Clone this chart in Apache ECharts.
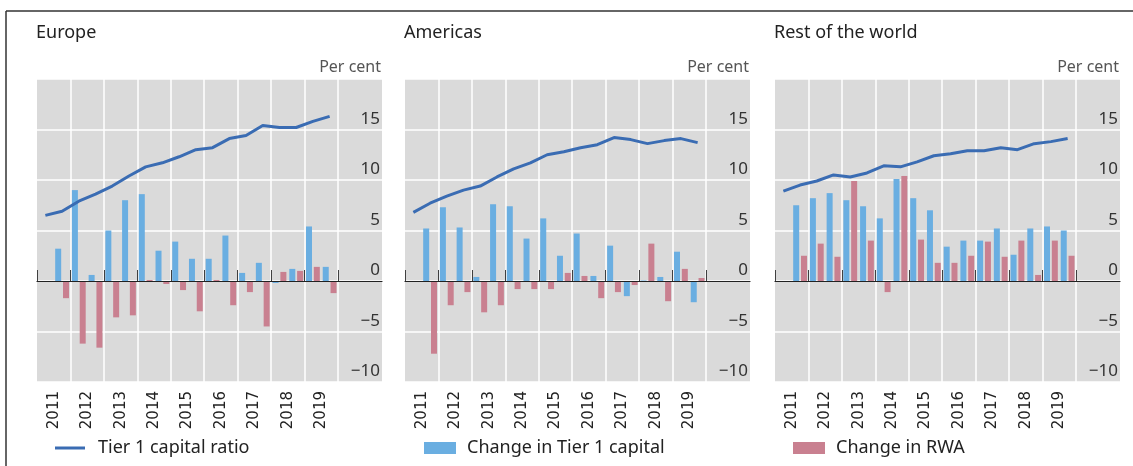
<!DOCTYPE html>
<html>
<head>
<meta charset="utf-8">
<script src="https://cdn.jsdelivr.net/npm/echarts@6/dist/echarts.min.js"></script>
<style>
    html, body { margin: 0; padding: 0; background: #fff; }
    #chart { width: 1133px; height: 466px; }
</style>
</head>
<body>
<div id="chart"></div>
<script>
var years = ['2011', '2012', '2013', '2014', '2015', '2016', '2017', '2018', '2019'];
var halfYears = ['11H1', '11H2', '12H1', '12H2', '13H1', '13H2', '14H1', '14H2', '15H1',
    '15H2', '16H1', '16H2', '17H1', '17H2', '18H1', '18H2', '19H1', '19H2'];
var regions = ['Europe', 'Americas', 'Rest of the world'];
var yTicks = [-10, -5, 0, 5, 10, 15, 20];

var europeRatio = [6.5, 6.9, 7.9, 8.6, 9.4, 10.4, 11.3, 11.7, 12.3, 13.0, 13.2, 14.1, 14.4, 15.4, 15.2, 15.2, 15.8, 16.3];
var europeCapital = [null, 3.2, 9.0, 0.6, 5.0, 8.0, 8.6, 3.0, 3.9, 2.2, 2.2, 4.5, 0.8, 1.8, -0.2, 1.2, 5.4, 1.4];
var europeRwa = [null, -1.7, -6.2, -6.6, -3.6, -3.4, 0.1, -0.3, -0.9, -3.0, 0.1, -2.4, -1.1, -4.5, 0.9, 1.0, 1.4, -1.2];

var americasRatio = [6.8, 7.7, 8.4, 9.0, 9.4, 10.3, 11.1, 11.7, 12.5, 12.8, 13.2, 13.5, 14.2, 14.0, 13.6, 13.9, 14.1, 13.7];
var americasCapital = [null, 5.2, 7.3, 5.3, 0.4, 7.6, 7.4, 4.2, 6.2, 2.5, 4.7, 0.5, 3.5, -1.5, 0.05, 0.4, 2.9, -2.1];
var americasRwa = [null, -7.2, -2.4, -1.1, -3.1, -2.4, -0.8, -0.8, -0.8, 0.8, 0.5, -1.7, -1.1, -0.4, 3.7, -2.0, 1.2, 0.3];

var rowRatio = [8.9, 9.5, 9.9, 10.5, 10.3, 10.7, 11.4, 11.3, 11.8, 12.4, 12.6, 12.9, 12.9, 13.2, 13.0, 13.6, 13.8, 14.1];
var rowCapital = [null, 7.5, 8.2, 8.7, 8.0, 7.4, 6.2, 10.1, 8.2, 7.0, 3.4, 4.0, 4.0, 5.2, 2.6, 5.2, 5.4, 5.0];
var rowRwa = [null, 2.5, 3.7, 2.4, 9.9, 4.0, -1.1, 10.4, 4.1, 1.8, 1.8, 2.5, 3.9, 2.4, 4.0, 0.6, 4.0, 2.5];

(function () {
    var myChart = echarts.init(document.getElementById('chart'));

    var font = '"Noto Sans", sans-serif';
    var lineColor = '#3a6cb3';
    var capColor = '#6aaee1';
    var rwaColor = '#c98090';

    var panels = [
        { left: 37, ratio: europeRatio, capital: europeCapital, rwa: europeRwa },
        { left: 405, ratio: americasRatio, capital: americasCapital, rwa: americasRwa },
        { left: 775, ratio: rowRatio, capital: rowCapital, rwa: rowRwa }
    ];
    var top = 79, height = 303, bgWidth = 345, plotWidth = 301;

    var grid = [], xAxis = [], yAxis = [], series = [], graphic = [];

    panels.forEach(function (p, i) {
        // grey background grid, carries the y labels and the zero line
        grid.push({ left: p.left, top: top, width: bgWidth, height: height,
            show: true, backgroundColor: '#dadada', borderWidth: 0 });
        // plot grid for the 18 half-years
        grid.push({ left: p.left, top: top, width: plotWidth, height: height });

        xAxis.push({
            gridIndex: 2 * i, type: 'value', min: 0, max: 1, z: 5,
            axisLine: { show: true, onZero: true, lineStyle: { color: '#222', width: 1.2 } },
            axisTick: { show: false }, axisLabel: { show: false }, splitLine: { show: false }
        });
        xAxis.push({
            gridIndex: 2 * i + 1, type: 'category', data: years, boundaryGap: true,
            axisLine: { show: false },
            axisTick: { show: true, inside: true, length: 11, lineStyle: { color: '#404040' } },
            axisLabel: { rotate: 90, margin: 9, fontSize: 15, fontFamily: 'DejaVu Sans', color: '#222' },
            splitLine: { show: true, showMinLine: false, lineStyle: { color: '#fff', width: 1.5 } }
        });
        xAxis.push({
            gridIndex: 2 * i + 1, type: 'category', data: halfYears, boundaryGap: true, show: false
        });

        yAxis.push({
            gridIndex: 2 * i, type: 'value', position: 'right',
            min: yTicks[0], max: yTicks[yTicks.length - 1], interval: 5,
            axisLine: { show: false }, axisTick: { show: false },
            axisLabel: {
                inside: true, margin: 2, fontSize: 17, fontFamily: font, color: '#333',
                verticalAlign: 'bottom', padding: [0, 0, 2, 0],
                formatter: function (v) {
                    if (v === 20) return '';
                    return v < 0 ? '\u2212' + Math.abs(v) : String(v);
                }
            },
            splitLine: { lineStyle: { color: '#fff', width: 1.5 } }
        });
        yAxis.push({
            gridIndex: 2 * i + 1, type: 'value', show: false,
            min: yTicks[0], max: yTicks[yTicks.length - 1], interval: 5,
            splitLine: { show: false }
        });

        series.push({
            name: 'Change in Tier 1 capital', type: 'bar',
            xAxisIndex: 3 * i + 2, yAxisIndex: 2 * i + 1,
            barWidth: 6, barGap: '30%',
            itemStyle: { color: capColor },
            data: p.capital
        });
        series.push({
            name: 'Change in RWA', type: 'bar',
            xAxisIndex: 3 * i + 2, yAxisIndex: 2 * i + 1,
            barWidth: 6, barGap: '30%',
            itemStyle: { color: rwaColor },
            data: p.rwa
        });
        series.push({
            name: 'Tier 1 capital ratio', type: 'line',
            xAxisIndex: 3 * i + 2, yAxisIndex: 2 * i + 1,
            symbol: 'none', z: 3,
            itemStyle: { color: lineColor },
            lineStyle: { color: lineColor, width: 3 },
            data: p.ratio
        });

        graphic.push({
            type: 'text', x: p.left - 1, y: 33,
            style: { text: regions[i], fill: '#222', font: '18px ' + font, textVerticalAlign: 'middle' }
        });
        graphic.push({
            type: 'text', x: p.left + bgWidth - 1, y: 67,
            style: { text: 'Per cent', fill: '#555', font: '16px ' + font,
                textAlign: 'right', textVerticalAlign: 'middle' }
        });
    });

    // frame: top and left edges
    graphic.push({ type: 'line', shape: { x1: 6, y1: 11, x2: 1133, y2: 11 },
        style: { stroke: '#333', lineWidth: 1.5 } });
    graphic.push({ type: 'line', shape: { x1: 6, y1: 11, x2: 6, y2: 466 },
        style: { stroke: '#333', lineWidth: 1.5 } });

    var legendText = { fontSize: 18, fontFamily: font, color: '#222' };
    var option = {
        animation: false,
        grid: grid,
        xAxis: xAxis,
        yAxis: yAxis,
        series: series,
        graphic: graphic,
        legend: [
            { left: 55, top: 439, padding: 0, itemWidth: 30, itemHeight: 3,
              data: [{ name: 'Tier 1 capital ratio', icon: 'rect' }],
              textStyle: Object.assign({ padding: [0, 0, 0, 8] }, legendText) },
            { left: 424, top: 439, padding: 0, itemWidth: 32, itemHeight: 12,
              data: [{ name: 'Change in Tier 1 capital', icon: 'rect' }],
              textStyle: Object.assign({ padding: [0, 0, 0, 6] }, legendText) },
            { left: 793, top: 439, padding: 0, itemWidth: 32, itemHeight: 12,
              data: [{ name: 'Change in RWA', icon: 'rect' }],
              textStyle: Object.assign({ padding: [0, 0, 0, 6] }, legendText) }
        ]
    };
    myChart.setOption(option);
    window.addEventListener('resize', function () {
        myChart.resize();
    });
})();
</script>
</body>
</html>
